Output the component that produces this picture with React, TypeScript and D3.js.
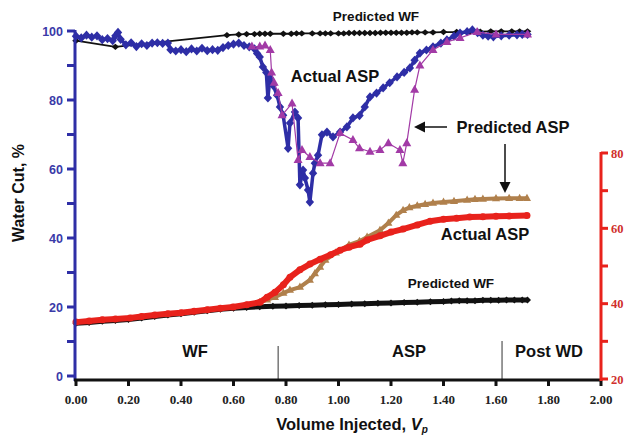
import React from "react";
import * as d3 from "d3";

// Water cut (left axis, %) — top group
const predictedWFTop: [number, number][] = [
  [0, 97.2], [0.15, 95.4], [0.575, 98.8], [0.62, 99.0], [0.65, 99.1], [0.68, 99.1], [0.7, 99.2],
  [0.72, 99.2], [0.74, 99.2], [0.79, 99.2], [0.82, 99.2], [0.84, 99.3], [0.86, 99.3], [0.9, 99.3],
  [0.93, 99.3], [0.95, 99.3], [0.97, 99.3], [1.0, 99.3], [1.02, 99.3], [1.04, 99.4], [1.06, 99.4],
  [1.08, 99.4], [1.1, 99.4], [1.12, 99.4], [1.14, 99.4], [1.16, 99.5], [1.18, 99.5], [1.2, 99.5],
  [1.22, 99.5], [1.24, 99.5], [1.26, 99.5], [1.28, 99.6], [1.3, 99.6], [1.33, 99.6], [1.36, 99.6],
  [1.4, 99.7], [1.45, 99.7], [1.5, 99.8], [1.54, 99.8], [1.58, 99.9], [1.62, 99.9], [1.66, 99.9],
  [1.69, 99.9], [1.72, 99.9],
];

const actualASPTop: [number, number][] = [
  [0, 98.5], [0.02, 98], [0.04, 98.8], [0.06, 98.2], [0.08, 98.6], [0.1, 97.5], [0.12, 97.8],
  [0.14, 97.2], [0.15, 98.6], [0.16, 99.6], [0.17, 97.6], [0.19, 96], [0.21, 96.6], [0.23, 95.5],
  [0.25, 96.3], [0.27, 95.8], [0.29, 96.5], [0.31, 96.6], [0.33, 96.4], [0.35, 96.5], [0.36, 94.6],
  [0.38, 94.2], [0.4, 94.6], [0.42, 94.0], [0.44, 94.8], [0.46, 94.2], [0.48, 95], [0.5, 94.3],
  [0.52, 94.6], [0.54, 94.4], [0.56, 95.2], [0.58, 95.8], [0.6, 96.2], [0.62, 96.5], [0.64, 95.8],
  [0.66, 95.4], [0.68, 94.8], [0.69, 93.5], [0.7, 92.5], [0.712, 89.6], [0.725, 88], [0.731, 80.6],
  [0.739, 86.4], [0.75, 84.3], [0.766, 81.4], [0.777, 78], [0.789, 75.6], [0.808, 66], [0.815, 73.3],
  [0.834, 76.5], [0.846, 74.8], [0.853, 55.4], [0.865, 59.7], [0.872, 57.4], [0.884, 53.9],
  [0.891, 50.4], [0.903, 58.8], [0.91, 61.7], [0.922, 64], [0.937, 69.9], [0.956, 70.7],
  [0.979, 69.3], [1.006, 70.7], [1.032, 72.2], [1.055, 74.8], [1.08, 75.5], [1.1, 78], [1.12, 80.9],
  [1.145, 82], [1.17, 83.5], [1.195, 85], [1.223, 86.7], [1.25, 88], [1.272, 89.3], [1.29, 91.5],
  [1.31, 93.6], [1.335, 94.5], [1.36, 95.4], [1.39, 96.5], [1.413, 97.4], [1.44, 98.5],
  [1.463, 99.4], [1.49, 99.8], [1.51, 100.3], [1.53, 99.5], [1.55, 98.8], [1.57, 98.5],
  [1.59, 98.3], [1.62, 98.6], [1.65, 98.8], [1.68, 98.9], [1.7, 99], [1.72, 99],
];

const predictedASPTop: [number, number][] = [
  [0.67, 95.5], [0.7, 95.5], [0.72, 95.8], [0.74, 94.5], [0.745, 88], [0.755, 85], [0.77, 82],
  [0.785, 75.6], [0.823, 79], [0.846, 62.6], [0.861, 65.5], [0.891, 63.5], [0.93, 61.7],
  [0.968, 61.7], [1.006, 70.4], [1.055, 68.4], [1.08, 66], [1.12, 65], [1.158, 65.5], [1.19, 67.5],
  [1.234, 65.5], [1.245, 61.7], [1.26, 67.5], [1.29, 83], [1.31, 90], [1.36, 94.5], [1.413, 96.8],
  [1.463, 98], [1.528, 99.7], [1.6, 99], [1.72, 99],
];

// Right axis — bottom group
const actualASPBottom: [number, number][] = [
  [0, 35.1], [0.05, 35.4], [0.1, 35.7], [0.15, 35.9], [0.206, 36.2], [0.25, 36.6], [0.3, 37],
  [0.35, 37.3], [0.4, 37.6], [0.45, 38], [0.5, 38.4], [0.55, 38.8], [0.598, 39.1], [0.65, 39.7],
  [0.701, 40.4], [0.728, 41.7], [0.758, 43], [0.79, 45], [0.815, 47], [0.853, 49], [0.891, 50.5],
  [0.93, 51.8], [0.97, 53], [1.006, 54.2], [1.04, 55], [1.082, 55.8], [1.109, 56.9], [1.158, 58],
  [1.2, 59], [1.246, 59.8], [1.3, 60.9], [1.349, 61.9], [1.4, 62.4], [1.45, 62.7], [1.5, 63],
  [1.55, 63.1], [1.6, 63.2], [1.65, 63.3], [1.718, 63.4],
];

const predictedASPBottom: [number, number][] = [
  [0.7, 40.4], [0.728, 41], [0.758, 41.7], [0.79, 42.8], [0.815, 43.6], [0.853, 44.4],
  [0.891, 46.3], [0.91, 48], [0.93, 49.7], [0.95, 51.6], [0.99, 53.5], [1.04, 55.6], [1.08, 56.6],
  [1.109, 57.7], [1.158, 59.5], [1.19, 61.4], [1.22, 63.5], [1.246, 64.8], [1.27, 65.5],
  [1.3, 66], [1.33, 66.4], [1.36, 66.7], [1.4, 67], [1.44, 67.2], [1.49, 67.5], [1.52, 67.7],
  [1.55, 67.8], [1.6, 67.9], [1.65, 68], [1.69, 68], [1.718, 68],
];

const predictedWFBottom: [number, number][] = [
  [0, 34.8], [0.05, 35], [0.1, 35.3], [0.15, 35.5], [0.2, 35.8], [0.25, 36.2], [0.3, 36.6],
  [0.35, 37], [0.4, 37.3], [0.45, 37.7], [0.5, 38.1], [0.55, 38.5], [0.6, 38.8], [0.65, 39],
  [0.7, 39.2], [0.75, 39.3], [0.8, 39.4], [0.85, 39.5], [0.9, 39.6], [0.95, 39.7], [1.0, 39.8],
  [1.05, 39.9], [1.1, 40], [1.15, 40.1], [1.2, 40.2], [1.25, 40.3], [1.3, 40.4], [1.35, 40.5],
  [1.4, 40.6], [1.43, 40.7], [1.46, 40.8], [1.49, 40.8], [1.52, 40.8], [1.55, 40.9], [1.58, 40.9],
  [1.61, 40.9], [1.64, 41], [1.67, 41], [1.7, 41], [1.72, 41],
];

const xTicks = [0, 0.2, 0.4, 0.6, 0.8, 1.0, 1.2, 1.4, 1.6, 1.8, 2.0];
const leftTicks = [0, 10, 20, 30, 40, 50, 60, 70, 80, 90, 100];
const leftLabels = [0, 20, 40, 60, 80, 100];
const rightTicks = [20, 30, 40, 50, 60, 70, 80];
const rightLabels = [20, 40, 60, 80];
const phaseBreaks = [0.77, 1.623];

const BLUE = "#2e2ea6";
const PURPLE = "#a23aa6";
const RED = "#e8221c";
const BROWN = "#b0804c";
const SANS = "'Liberation Sans', Arial, sans-serif";
const SERIF = "'Liberation Serif', 'Times New Roman', serif";

const diamond = (w: number, h: number) => `M0,${-h}L${w},0L0,${h}L${-w},0Z`;
const triangle = (s: number) => `M0,${-s}L${s * 0.9},${s * 0.6}L${-s * 0.9},${s * 0.6}Z`;

export default function App() {
  const x = d3.scaleLinear().domain([0, 2]).range([76, 601]);
  const yL = d3.scaleLinear().domain([0, 100]).range([376, 31]);
  const yR = d3.scaleLinear().domain([20, 80]).range([379, 153]);

  const lineL = d3.line<[number, number]>().x((d) => x(d[0])).y((d) => yL(d[1]));
  const lineR = d3.line<[number, number]>().x((d) => x(d[0])).y((d) => yR(d[1]));

  const markers = (data: [number, number][], y: d3.ScaleLinear<number, number>, path: string, fill: string) =>
    data.map((d, i) => (
      <path key={i} d={path} transform={`translate(${x(d[0])},${y(d[1])})`} fill={fill} />
    ));

  return (
    <svg width={625} height={436} style={{ position: "absolute", left: 0, top: 0, background: "#fff" }}>
      {/* bottom group (right axis) */}
      <path d={lineR(predictedWFBottom) ?? ""} fill="none" stroke="#111" strokeWidth={5} />
      {markers(predictedWFBottom, yR, diamond(3.5, 3.5), "#111")}
      <path d={lineR(predictedASPBottom) ?? ""} fill="none" stroke={BROWN} strokeWidth={4} />
      {markers(predictedASPBottom, yR, triangle(4.5), BROWN)}
      <path d={lineR(actualASPBottom) ?? ""} fill="none" stroke={RED} strokeWidth={6} />
      {markers(actualASPBottom, yR, "M-3.5,0a3.5,3.5 0 1,0 7,0a3.5,3.5 0 1,0 -7,0", RED)}

      {/* top group (left axis) */}
      <path d={lineL(predictedWFTop) ?? ""} fill="none" stroke="#111" strokeWidth={1.8} />
      {markers(predictedWFTop, yL, diamond(3.8, 3.2), "#111")}
      <path d={lineL(actualASPTop) ?? ""} fill="none" stroke={BLUE} strokeWidth={3.5} strokeLinejoin="round" />
      {markers(actualASPTop, yL, diamond(4.2, 4.6), BLUE)}
      <path d={lineL(predictedASPTop) ?? ""} fill="none" stroke={PURPLE} strokeWidth={1.2} />
      {markers(predictedASPTop, yL, triangle(5), PURPLE)}

      {/* phase separators */}
      {phaseBreaks.map((v, i) => (
        <line key={v} x1={x(v)} x2={x(v)} y1={i === 0 ? 346 : 341} y2={380} stroke="#333" strokeWidth={1} />
      ))}

      {/* left axis */}
      <line x1={75} x2={75} y1={yL(100) - 1} y2={381} stroke={BLUE} strokeWidth={3} />
      {leftTicks.map((t) => (
        <line key={t} x1={67} x2={75} y1={yL(t)} y2={yL(t)} stroke={BLUE} strokeWidth={3} />
      ))}
      {leftLabels.map((t) => (
        <text key={t} x={63} y={yL(t) + 4.5} textAnchor="end" fontFamily={SANS} fontWeight="bold" fontSize={12.5} fill="#3a3aa8">
          {t}
        </text>
      ))}

      {/* x axis */}
      <line x1={74} x2={602} y1={380} y2={380} stroke="#111" strokeWidth={3} />
      {xTicks.map((t) => (
        <g key={t}>
          <line x1={x(t)} x2={x(t)} y1={380} y2={386} stroke="#111" strokeWidth={3} />
          <text x={x(t)} y={404} textAnchor="middle" fontFamily={SERIF} fontWeight="bold" fontSize={13} fill="#222">
            {d3.format(".2f")(t)}
          </text>
        </g>
      ))}

      {/* right axis */}
      <line x1={601} x2={601} y1={yR(80) - 1} y2={381} stroke={RED} strokeWidth={3} />
      {rightTicks.map((t) => (
        <line key={t} x1={601} x2={608} y1={yR(t)} y2={yR(t)} stroke={RED} strokeWidth={3} />
      ))}
      {rightLabels.map((t) => (
        <text key={t} x={611} y={yR(t) + 4.5} fontFamily={SERIF} fontWeight="bold" fontSize={12.5} fill="#d0302c">
          {t}
        </text>
      ))}

      {/* axis titles */}
      <text transform="translate(24,193) rotate(-90)" textAnchor="middle" fontFamily={SANS} fontWeight="bold" fontSize={16} fill="#111">
        Water Cut, %
      </text>
      <text x={352} y={430} textAnchor="middle" fontFamily={SANS} fontWeight="bold" fontSize={16.5} fill="#111">
        Volume Injected, <tspan fontStyle="italic">V</tspan>
        <tspan fontStyle="italic" fontSize={10} dy={3}>p</tspan>
      </text>

      {/* annotations */}
      <g fontFamily={SANS} fontWeight="bold" fill="#111">
        <text x={376} y={21} textAnchor="middle" fontSize={13.5}>Predicted WF</text>
        <text x={335} y={82} textAnchor="middle" fontSize={16.5}>Actual ASP</text>
        <text x={513} y={133} textAnchor="middle" fontSize={16.5}>Predicted ASP</text>
        <text x={485} y={240} textAnchor="middle" fontSize={16.5}>Actual ASP</text>
        <text x={451} y={288} textAnchor="middle" fontSize={13.5}>Predicted WF</text>
        <text x={195} y={357} textAnchor="middle" fontSize={16.5}>WF</text>
        <text x={409} y={357} textAnchor="middle" fontSize={16.5}>ASP</text>
        <text x={549} y={357} textAnchor="middle" fontSize={16.5}>Post WD</text>
      </g>

      {/* arrows */}
      <line x1={447} x2={422} y1={127} y2={127} stroke="#111" strokeWidth={1.5} />
      <path d="M414,127L425,121.5L425,132.5Z" fill="#111" />
      <line x1={505} x2={505} y1={144} y2={184} stroke="#111" strokeWidth={1.5} />
      <path d="M505,193L499.5,182L510.5,182Z" fill="#111" />
    </svg>
  );
}
